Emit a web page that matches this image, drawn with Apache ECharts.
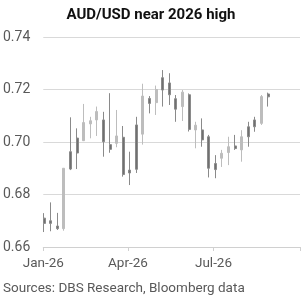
<!DOCTYPE html>
<html>
<head>
<meta charset="utf-8">
<script src="https://cdn.jsdelivr.net/npm/echarts@6/dist/echarts.min.js"></script>
<style>
  html, body { margin: 0; padding: 0; background: #fff; }
  #chart { width: 302px; height: 302px; }
</style>
</head>
<body>
<div id="chart"></div>
<script>
// weekly AUD/USD candles (week ending dates)
var weeks = [
  '2026-01-02', '2026-01-09', '2026-01-16', '2026-01-23', '2026-01-30',
  '2026-02-06', '2026-02-13', '2026-02-20', '2026-02-27', '2026-03-06',
  '2026-03-13', '2026-03-20', '2026-03-27', '2026-04-03', '2026-04-10',
  '2026-04-17', '2026-04-24', '2026-05-01', '2026-05-08', '2026-05-15',
  '2026-05-22', '2026-05-29', '2026-06-05', '2026-06-12', '2026-06-19',
  '2026-06-26', '2026-07-03', '2026-07-10', '2026-07-17', '2026-07-24',
  '2026-07-31', '2026-08-07', '2026-08-14', '2026-08-21', '2026-08-28'
];
var opens = [
  0.6710, 0.6700, 0.6680, 0.6670, 0.6963,
  0.7015, 0.7005, 0.7069, 0.7084, 0.7084,
  0.6990, 0.6995, 0.7018, 0.6893, 0.7065,
  0.7030, 0.7166, 0.7150, 0.7245, 0.7225,
  0.7165, 0.7135, 0.7180, 0.7046, 0.7046,
  0.7020, 0.6918, 0.6938, 0.6960, 0.6985,
  0.6970, 0.7058, 0.7084, 0.7071, 0.7183
];
var closes = [
  0.6690, 0.6690, 0.6670, 0.6900, 0.6897,
  0.6958, 0.7074, 0.7081, 0.7116, 0.7001,
  0.6972, 0.7023, 0.6876, 0.6882, 0.6896,
  0.7175, 0.7147, 0.7200, 0.7198, 0.7180,
  0.7125, 0.7190, 0.7048, 0.7064, 0.7008,
  0.6900, 0.6895, 0.6957, 0.6982, 0.6975,
  0.7020, 0.7020, 0.7058, 0.7173, 0.7172
];
var lows = [
  0.6657, 0.6660, 0.6665, 0.6662, 0.6893,
  0.6897, 0.7008, 0.7014, 0.7023, 0.6944,
  0.6959, 0.6980, 0.6868, 0.6836, 0.6882,
  0.6990, 0.7109, 0.7103, 0.7135, 0.7141,
  0.7077, 0.7080, 0.7040, 0.6976, 0.6982,
  0.6865, 0.6862, 0.6905, 0.6912, 0.6970,
  0.6925, 0.6982, 0.7039, 0.7065, 0.7135
];
var highs = [
  0.6729, 0.6770, 0.6730, 0.6900, 0.7094,
  0.7052, 0.7145, 0.7096, 0.7135, 0.7115,
  0.7186, 0.7122, 0.7061, 0.6963, 0.7096,
  0.7222, 0.7175, 0.7215, 0.7274, 0.7262,
  0.7179, 0.7198, 0.7185, 0.7077, 0.7090,
  0.7027, 0.6950, 0.6970, 0.7020, 0.7027,
  0.7045, 0.7077, 0.7096, 0.7179, 0.7188
];
var quarterStarts = ['2026-01-01', '2026-04-01', '2026-07-01', '2026-10-01'];
var monthNames = ['Jan', 'Feb', 'Mar', 'Apr', 'May', 'Jun', 'Jul', 'Aug', 'Sep', 'Oct', 'Nov', 'Dec'];

function toTime(s) {
  var p = s.split('-');
  return Date.UTC(+p[0], +p[1] - 1, +p[2]);
}

var candles = weeks.map(function (d, i) {
  return [toTime(d), opens[i], closes[i], lows[i], highs[i]];
});
var quarterTicks = quarterStarts.map(toTime);

var myChart = echarts.init(document.getElementById('chart'));

var option = {
  animation: false,
  title: {
    text: 'AUD/USD near 2026 high',
    left: 'center',
    top: 3,
    textStyle: { fontFamily: 'Roboto', fontSize: 15, fontWeight: 'bold', color: '#111' }
  },
  graphic: [{
    type: 'text',
    left: 3,
    top: 282,
    style: {
      text: 'Sources: DBS Research, Bloomberg data',
      font: '13.5px Roboto',
      fill: '#595959'
    }
  }],
  grid: { left: 41, right: 2, top: 37, bottom: 55 },
  xAxis: {
    // value axis holding timestamps, so quarter ticks can be placed exactly
    type: 'value',
    min: quarterTicks[0],
    max: quarterTicks[3],
    axisLine: { show: true, lineStyle: { color: '#d0d0d0' } },
    axisTick: { show: true, length: 4, customValues: quarterTicks, lineStyle: { color: '#d0d0d0' } },
    splitLine: { show: false },
    axisLabel: {
      customValues: quarterTicks.slice(0, 3),
      color: '#595959',
      fontFamily: 'Roboto',
      fontSize: 13.5,
      margin: 10,
      formatter: function (v) {
        var d = new Date(v);
        return monthNames[d.getUTCMonth()] + '-' + String(d.getUTCFullYear()).slice(2);
      }
    }
  },
  yAxis: {
    type: 'value',
    min: 0.66,
    max: 0.74,
    interval: 0.02,
    axisLine: { show: false },
    axisTick: { show: false },
    splitLine: { lineStyle: { color: '#d9d9d9' } },
    axisLabel: {
      color: '#595959',
      fontFamily: 'Roboto',
      fontSize: 14,
      margin: 13,
      formatter: function (v) { return v.toFixed(2); }
    }
  },
  series: [{
    type: 'candlestick',
    barWidth: 2.5,
    data: candles,
    itemStyle: {
      color: '#bdbdbd',
      color0: '#707070',
      borderColor: '#bdbdbd',
      borderColor0: '#8a8a8a',
      borderWidth: 1
    }
  }]
};

option && myChart.setOption(option);
</script>
</body>
</html>
